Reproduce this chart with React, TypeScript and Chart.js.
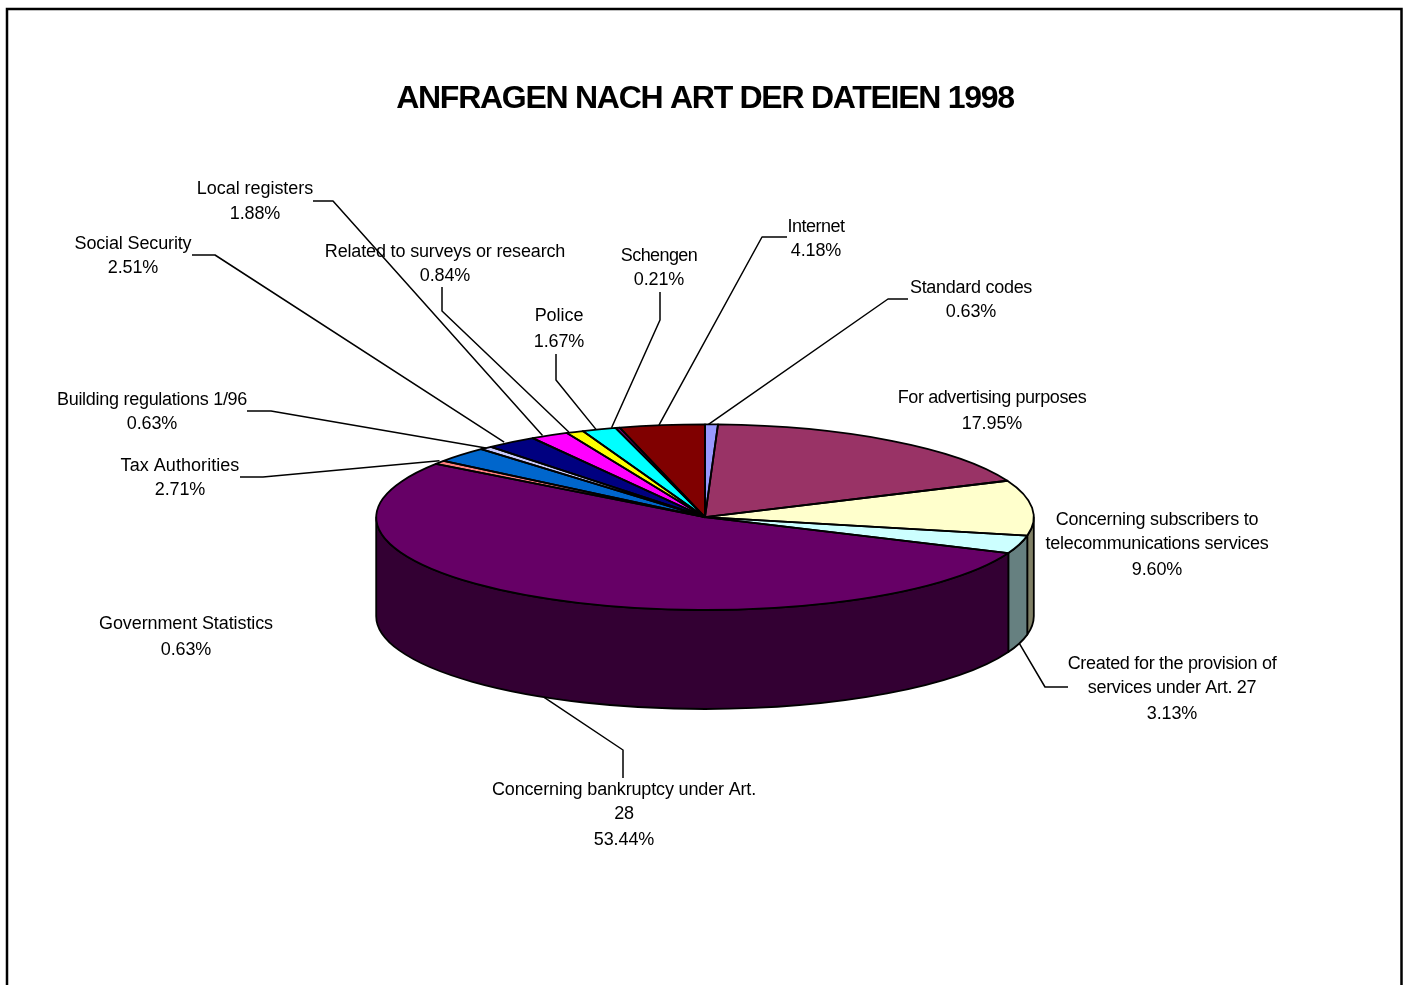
import React, { useEffect, useRef } from "react";
import { Chart, registerables } from "chart.js";

Chart.register(...registerables);

const titleText = "ANFRAGEN NACH ART DER DATEIEN 1998";

const categories = [
  "Standard codes",
  "For advertising purposes",
  "Concerning subscribers to\ntelecommunications services",
  "Created for the provision of\nservices under Art. 27",
  "Concerning bankruptcy under Art.\n28",
  "Government Statistics",
  "Tax Authorities",
  "Building regulations 1/96",
  "Social Security",
  "Local registers",
  "Related to surveys or research",
  "Police",
  "Schengen",
  "Internet",
];

const values = [0.63, 17.95, 9.6, 3.13, 53.44, 0.63, 2.71, 0.63, 2.51, 1.88, 0.84, 1.67, 0.21, 4.18];

const topColors = [
  "#9999FF", "#993366", "#FFFFCC", "#CCFFFF", "#660066", "#FF8080", "#0066CC",
  "#CCCCFF", "#000080", "#FF00FF", "#FFFF00", "#00FFFF", "#800080", "#800000",
];

const sideColors = [
  "#4D4D80", "#4D1933", "#808066", "#668080", "#330033", "#804040", "#003366",
  "#666680", "#000040", "#800080", "#808000", "#008080", "#400040", "#400000",
];

// label placement: centre x, line centre y's, per-line letter spacing, leader [start, elbow], tip nudge
type Place = { x: number; ys: number[]; sp: number; leader?: number[][]; nudge?: number[] };
const labelPlaces: Place[] = [
  { x: 971, ys: [288, 312], sp: -0.28, leader: [[908, 299], [888, 299]], nudge: [-3, 0] },
  { x: 992, ys: [398, 424], sp: -0.4 },
  { x: 1157, ys: [520, 544, 570], sp: -0.27 },
  { x: 1172, ys: [664, 688, 714], sp: -0.3, leader: [[1068, 687], [1045, 687]] },
  { x: 624, ys: [790, 814, 840], sp: -0.16, leader: [[623, 778], [623, 750]], nudge: [-2, 0] },
  { x: 186, ys: [624, 650], sp: -0.1 },
  { x: 180, ys: [466, 490], sp: 0.05, leader: [[240, 477], [263, 477]], nudge: [-22, 6] },
  { x: 152, ys: [400, 424], sp: -0.28, leader: [[247, 411], [271, 411]] },
  { x: 133, ys: [244, 268], sp: -0.14, leader: [[192, 255], [215, 255]], nudge: [-7, 0] },
  { x: 255, ys: [189, 214], sp: -0.05, leader: [[313, 201], [333, 201]], nudge: [-7, 0] },
  { x: 445, ys: [252, 276], sp: -0.16, leader: [[442, 287], [442, 311]], nudge: [-6, 0] },
  { x: 559, ys: [316, 342], sp: -0.05, leader: [[556, 354], [556, 380]], nudge: [-3, 0] },
  { x: 659, ys: [256, 280], sp: -0.6, leader: [[660, 292], [660, 320]], nudge: [-6, 0] },
  { x: 816, ys: [227, 251], sp: -0.5, leader: [[787, 237], [762, 237]], nudge: [-3, 0] },
];

const SQUASH = 93 / 329.5;
const DEPTH = 99;
const LABEL_FONT = '18px "Liberation Sans", Arial, sans-serif';

const pie3d = {
  id: "pie3d",
  beforeDraw(chart: any) {
    const { ctx } = chart;
    ctx.save();
    ctx.strokeStyle = "#000";
    ctx.lineWidth = 2.5;
    ctx.beginPath();
    ctx.moveTo(7, 1000);
    ctx.lineTo(7, 9);
    ctx.lineTo(1401.5, 9);
    ctx.lineTo(1401.5, 1000);
    ctx.stroke();
    ctx.restore();
    ctx.letterSpacing = "-1.27px"; // used by the title box
  },
  beforeDatasetDraw(chart: any, args: any) {
    const { ctx } = chart;
    ctx.letterSpacing = "0px";
    const arcs = args.meta.data;
    const { x: cx, y: cy, outerRadius: rx } = arcs[0].getProps(["x", "y", "outerRadius"]);
    const ry = rx * SQUASH;
    ctx.save();
    ctx.lineWidth = 1.8;
    ctx.strokeStyle = "#000";
    ctx.lineJoin = "round";
    arcs.forEach((arc: any, i: number) => {
      const a0 = Math.max(arc.startAngle, 0);
      const a1 = Math.min(arc.endAngle, Math.PI);
      if (a0 >= a1) return;
      ctx.beginPath();
      ctx.ellipse(cx, cy, rx, ry, 0, a0, a1);
      ctx.ellipse(cx, cy + DEPTH, rx, ry, 0, a1, a0, true);
      ctx.closePath();
      ctx.fillStyle = sideColors[i];
      ctx.fill();
      ctx.stroke();
    });
    ctx.restore();
    ctx.save();
    ctx.translate(cx, cy);
    ctx.scale(1, SQUASH);
    ctx.translate(-cx, -cy);
  },
  afterDatasetDraw(chart: any, args: any) {
    const { ctx } = chart;
    ctx.restore();
    const arcs = args.meta.data;
    const { x: cx, y: cy, outerRadius: rx } = arcs[0].getProps(["x", "y", "outerRadius"]);
    const ry = rx * SQUASH;
    ctx.save();
    ctx.strokeStyle = "#000";
    ctx.lineWidth = 1.8;
    ctx.lineJoin = "round";
    arcs.forEach((arc: any) => {
      ctx.beginPath();
      ctx.moveTo(cx, cy);
      ctx.ellipse(cx, cy, rx, ry, 0, arc.startAngle, arc.endAngle);
      ctx.closePath();
      ctx.stroke();
    });

    // leader lines run from the label to the middle of the slice
    ctx.lineWidth = 1.5;
    arcs.forEach((arc: any, i: number) => {
      const place = labelPlaces[i];
      if (!place.leader) return;
      const mid = (arc.startAngle + arc.endAngle) / 2;
      const drop = Math.sin(mid) > 0 ? DEPTH : 0;
      const nudge = place.nudge || [0, 0];
      const tipX = cx + rx * Math.cos(mid) + nudge[0];
      const tipY = cy + ry * Math.sin(mid) + drop + nudge[1];
      ctx.beginPath();
      ctx.moveTo(place.leader[0][0], place.leader[0][1]);
      ctx.lineTo(place.leader[1][0], place.leader[1][1]);
      ctx.lineTo(tipX, tipY);
      ctx.stroke();
    });

    // labels: category name(s) then the percentage
    ctx.fillStyle = "#000";
    ctx.font = LABEL_FONT;
    ctx.textAlign = "center";
    ctx.textBaseline = "middle";
    categories.forEach((name, i) => {
      const names = name.split("\n");
      const lines = [...names, values[i].toFixed(2) + "%"];
      lines.forEach((line, k) => {
        ctx.letterSpacing = (k < names.length ? labelPlaces[i].sp : -0.1) + "px";
        ctx.fillText(line, labelPlaces[i].x, labelPlaces[i].ys[k]);
      });
    });
    ctx.letterSpacing = "0px";
    ctx.restore();
  },
};

export default function App() {
  const ref = useRef<HTMLCanvasElement>(null);
  useEffect(() => {
    const chart = new Chart(ref.current as HTMLCanvasElement, {
      type: "pie",
      data: {
        labels: categories,
        datasets: [{ data: values, backgroundColor: topColors, borderWidth: 0 }],
      },
      options: {
        animation: false,
        responsive: false,
        layout: { padding: { left: 375.5, right: 372.5, top: 0, bottom: 139 } },
        plugins: {
          legend: { display: false },
          tooltip: { enabled: false },
          title: {
            display: true,
            text: titleText,
            color: "#000",
            font: { family: '"Liberation Sans", Arial, sans-serif', size: 32, weight: "bold" },
            padding: { top: 80, bottom: 70 },
          },
        },
      },
      plugins: [pie3d],
    } as any);
    return () => chart.destroy();
  }, []);
  return (
    <canvas
      ref={ref}
      width={1407}
      height={985}
      style={{ position: "absolute", left: 0, top: 0, display: "block", background: "#fff" }}
    />
  );
}
